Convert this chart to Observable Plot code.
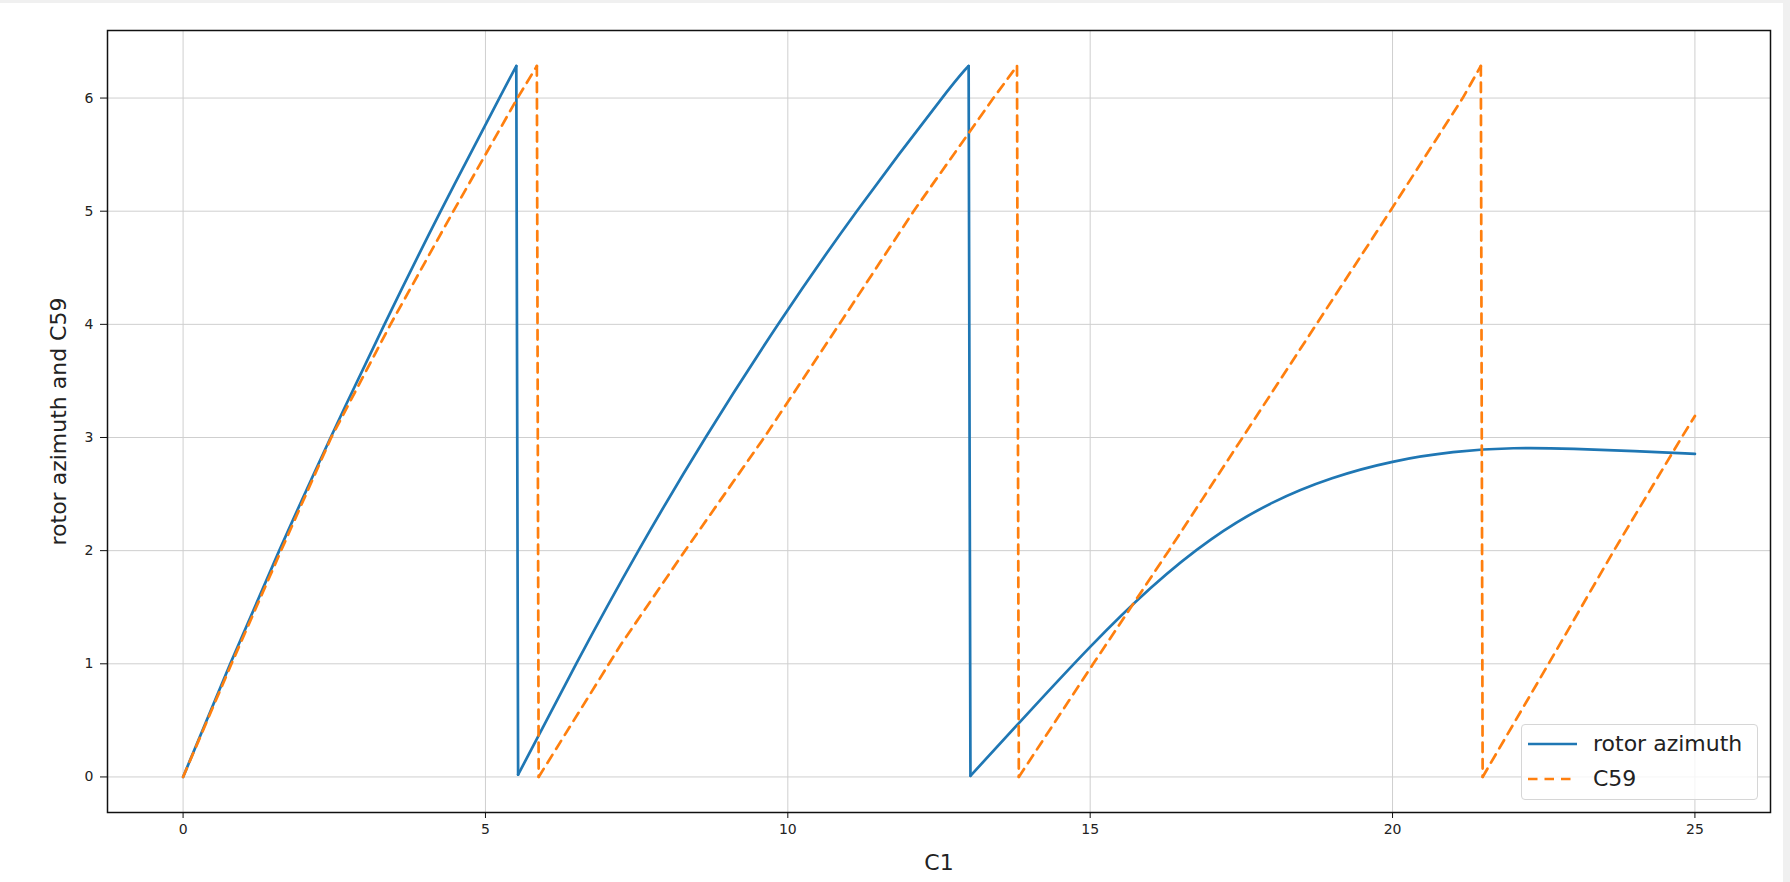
<!DOCTYPE html>
<html>
<head>
<meta charset="utf-8">
<script src="https://cdn.jsdelivr.net/npm/d3@7"></script>
<script src="https://cdn.jsdelivr.net/npm/@observablehq/plot@0.6"></script>
<style>
  html, body { margin: 0; padding: 0; background: #f0f0f0; }
  #wrap { position: absolute; left: 0; top: 3px; width: 1783px; height: 879px; background: #fff; overflow: hidden; }
  #legend { position: absolute; left: 1521px; top: 721px; width: 235px; height: 74px; border: 1px solid #d6d6d6; border-radius: 4px; background: rgba(255,255,255,0.8); font-family: "DejaVu Sans", sans-serif; font-size: 22px; color: #222; }
  #legend .row { position: absolute; left: 0; height: 34px; display: flex; align-items: center; }
  #legend svg { margin-left: 6px; margin-right: 16px; }
</style>
</head>
<body>
<div id="wrap">
  <div id="chart"></div>
  <div id="legend"></div>
</div>
<script>
// ---- data ----
const blueName = "rotor azimuth";
const orangeName = "C59";
const xLabel = "C1";
const yLabel = "rotor azimuth and C59";

const blueX = [0, 0.78, 1.59, 2.44, 3.33, 4.26, 5.23, 5.51,
               5.51, 5.54,
               5.54, 6.50, 7.53, 8.64, 9.84, 11.14, 12.55, 12.99,
               12.99, 13.02,
               13.02, 14, 15, 16, 17, 18, 19, 20, 21, 22, 23, 24, 25];
const blueY = [0, 1, 2, 3, 4, 5, 6, 6.283,
               6.283, 0.02,
               0.02, 1, 2, 3, 4, 5, 6, 6.283,
               6.283, 0.01,
               0.01, 0.58, 1.15, 1.67, 2.10, 2.42, 2.64, 2.785, 2.87, 2.905, 2.90, 2.88, 2.855];
const blueSeg = [1,1,1,1,1,1,1,1, 2,2, 3,3,3,3,3,3,3,3, 4,4, 5,5,5,5,5,5,5,5,5,5,5,5,5];

const orangeX = [0, 0.8, 1.62, 2.45, 3.43, 4.47, 5.53, 5.85,
                 5.85, 5.88,
                 5.88, 7.24, 8.3, 9.61, 10.85, 12.08, 13.40, 13.79,
                 13.79, 13.82,
                 13.82, 15.05, 16.3, 17.52, 18.74, 19.96, 21.16, 21.46,
                 21.46, 21.49,
                 21.49, 22.58, 23.66, 24.78, 25];
const orangeY = [0, 1, 2, 3, 4, 5, 6, 6.283,
                 6.283, 0,
                 0, 1.17, 2, 3, 4, 5, 6, 6.283,
                 6.283, 0,
                 0, 1, 2, 3, 4, 5, 6, 6.283,
                 6.283, 0,
                 0, 1, 2, 3, 3.19];
const orangeSeg = [1,1,1,1,1,1,1,1, 2,2, 3,3,3,3,3,3,3,3, 4,4, 5,5,5,5,5,5,5,5, 6,6, 7,7,7,7,7];

const xTicks = [0, 5, 10, 15, 20, 25];
const yTicks = [0, 1, 2, 3, 4, 5, 6];

// ---- build tables ----
const blue = blueX.map((x, i) => ({x, y: blueY[i], seg: blueSeg[i]}));
const orange = orangeX.map((x, i) => ({x, y: orangeY[i], seg: orangeSeg[i]}));

const blueColor = "#1f77b4";
const orangeColor = "#ff7f0e";
const gridColor = "#cfcfcf";

const chart = Plot.plot({
  width: 1783,
  height: 879,
  marginLeft: 107,
  marginRight: 13,
  marginTop: 27,
  marginBottom: 70,
  style: {fontFamily: "DejaVu Sans, sans-serif", fontSize: "14px", color: "#222", background: "white"},
  x: {domain: [-1.25, 26.25]},
  y: {domain: [-0.3142, 6.597]},
  marks: [
    Plot.gridX(xTicks, {stroke: gridColor, strokeOpacity: 1, strokeWidth: 1}),
    Plot.gridY(yTicks, {stroke: gridColor, strokeOpacity: 1, strokeWidth: 1}),
    Plot.line(blue, {x: "x", y: "y", z: "seg", stroke: blueColor, strokeWidth: 2.7, curve: "natural"}),
    Plot.line(orange, {x: "x", y: "y", z: "seg", stroke: orangeColor, strokeWidth: 2.7, strokeDasharray: "9.5,7"}),
    Plot.frame({stroke: "#111", strokeWidth: 1.5}),
    Plot.axisX(xTicks, {tickSize: 6, tickPadding: 6, fontSize: 14, label: null, stroke: "#111", tickFormat: d => String(d)}),
    Plot.axisY(yTicks, {tickSize: 7, tickPadding: 7, fontSize: 14, label: null, stroke: "#111", tickFormat: d => String(d)}),
    Plot.text([xLabel], {text: d => d, frameAnchor: "bottom", lineAnchor: "middle", dy: 50, fontSize: 22, fill: "#222"}),
    Plot.text([yLabel], {text: d => d, frameAnchor: "left", lineAnchor: "middle", textAnchor: "middle", rotate: -90, dx: -49, fontSize: 22, fill: "#222"})
  ]
});
document.getElementById("chart").appendChild(chart);

// ---- legend ----
const legend = document.getElementById("legend");
const items = [
  {name: blueName, color: blueColor, dash: null, top: 1.5},
  {name: orangeName, color: orangeColor, dash: "9.5,7", top: 36.5}
];
for (const it of items) {
  const row = document.createElement("div");
  row.className = "row";
  row.style.top = it.top + "px";
  const svgNS = "http://www.w3.org/2000/svg";
  const s = document.createElementNS(svgNS, "svg");
  s.setAttribute("width", "49");
  s.setAttribute("height", "10");
  const l = document.createElementNS(svgNS, "line");
  l.setAttribute("x1", "0"); l.setAttribute("x2", "49");
  l.setAttribute("y1", "5"); l.setAttribute("y2", "5");
  l.setAttribute("stroke", it.color);
  l.setAttribute("stroke-width", "2.7");
  if (it.dash) l.setAttribute("stroke-dasharray", it.dash);
  s.appendChild(l);
  row.appendChild(s);
  const t = document.createElement("span");
  t.textContent = it.name;
  row.appendChild(t);
  legend.appendChild(row);
}
</script>
</body>
</html>
